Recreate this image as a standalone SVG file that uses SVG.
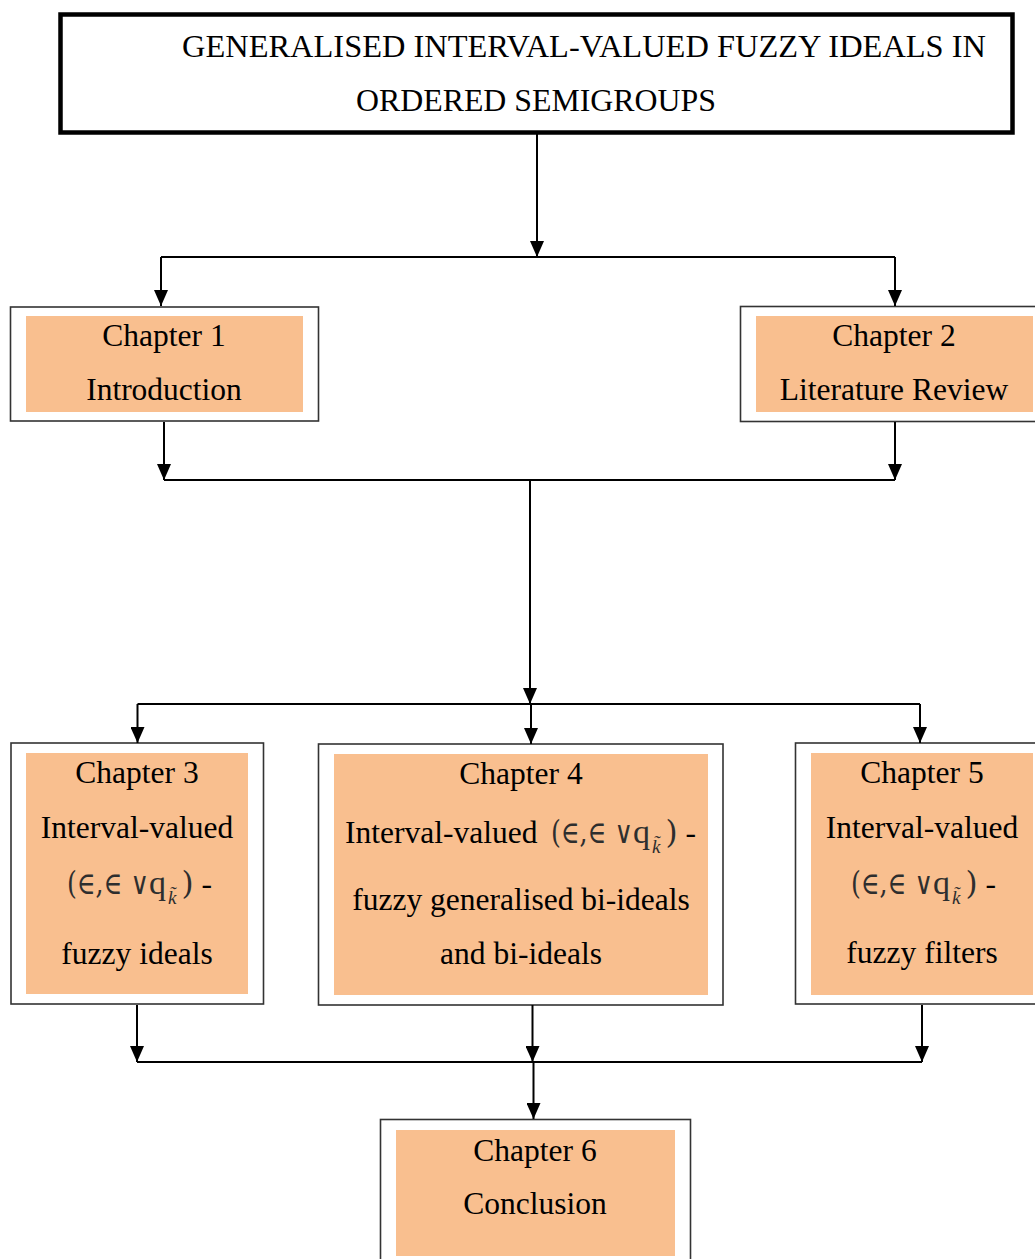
<svg xmlns="http://www.w3.org/2000/svg" width="1035" height="1259" viewBox="0 0 1035 1259">
<style>
  .lbl { font-family: "Liberation Serif", "Times New Roman", serif; font-size: 31.5px; fill: #000; text-anchor: middle; }
  .ttl { font-family: "Liberation Serif", "Times New Roman", serif; font-size: 31.5px; fill: #000; }
  .math { font-family: "DejaVu Serif", "Liberation Serif", serif; font-size: 31px; fill: #2e2e2e; }
  .q { font-family: "Liberation Serif", serif; font-size: 34px; }
  .sub { font-family: "Liberation Serif", serif; font-size: 19px; font-style: italic; }
  .dash { font-family: "Liberation Serif", serif; font-size: 31.5px; fill: #000; }
  .outer { fill: #fff; stroke: #333; stroke-width: 1.6; }
  .inner { fill: #F9BF8F; }
  .conn { stroke: #000; stroke-width: 2; fill: none; }
  .arr { stroke: #000; stroke-width: 2; fill: none; marker-end: url(#ah); }
</style>
<defs>
  <marker id="ah" markerUnits="userSpaceOnUse" markerWidth="16" markerHeight="14" viewBox="0 0 16 14" refX="16" refY="7" orient="auto">
    <path d="M0 0 L16 7 L0 14 Z" fill="#000"/>
  </marker>
</defs>
<rect width="1035" height="1259" fill="#fff"/>

<g id="title">
  <rect x="60.5" y="14.5" width="952" height="118" fill="#fff" stroke="#000" stroke-width="4.5"/>
  <text class="ttl" x="182" y="57" textLength="804" lengthAdjust="spacingAndGlyphs">GENERALISED INTERVAL-VALUED FUZZY IDEALS IN</text>
  <text class="ttl" x="356" y="111" textLength="360" lengthAdjust="spacingAndGlyphs">ORDERED SEMIGROUPS</text>
</g>

<g id="ch1">
  <rect class="outer" x="10.5" y="307" width="308" height="114"/>
  <rect class="inner" x="26" y="316" width="277" height="96"/>
  <text class="lbl" x="164" y="346">Chapter 1</text>
  <text class="lbl" x="164" y="400">Introduction</text>
</g>

<g id="ch2">
  <rect class="outer" x="740.5" y="306.5" width="320" height="115"/>
  <rect class="inner" x="756" y="316" width="277" height="96"/>
  <text class="lbl" x="894" y="346">Chapter 2</text>
  <text class="lbl" x="894" y="400">Literature Review</text>
</g>

<g id="ch3">
  <rect class="outer" x="11" y="743" width="252.5" height="261"/>
  <rect class="inner" x="26" y="753" width="222" height="241"/>
  <text class="lbl" x="137" y="783">Chapter 3</text>
  <text class="lbl" x="137" y="838">Interval-valued</text>
  <text class="math" x="67" y="894"><tspan textLength="82" lengthAdjust="spacingAndGlyphs">(∈,∈ ∨</tspan><tspan class="q">q</tspan><tspan class="sub" dx="2" dy="10">k̃</tspan><tspan dx="5" dy="-10">)</tspan><tspan class="dash" dx="8">-</tspan></text>
  <text class="lbl" x="137" y="964">fuzzy ideals</text>
</g>

<g id="ch4">
  <rect class="outer" x="318.5" y="744" width="404.5" height="261"/>
  <rect class="inner" x="334" y="754" width="374" height="241"/>
  <text class="lbl" x="521" y="784">Chapter 4</text>
  <text class="ttl" x="345" y="843">Interval-valued</text>
  <text class="math" x="551" y="843"><tspan textLength="82" lengthAdjust="spacingAndGlyphs">(∈,∈ ∨</tspan><tspan class="q">q</tspan><tspan class="sub" dx="2" dy="10">k̃</tspan><tspan dx="5" dy="-10">)</tspan><tspan class="dash" dx="8">-</tspan></text>
  <text class="lbl" x="521" y="910">fuzzy generalised bi-ideals</text>
  <text class="lbl" x="521" y="964">and bi-ideals</text>
</g>

<g id="ch5">
  <rect class="outer" x="795.5" y="743" width="260" height="261"/>
  <rect class="inner" x="811" y="753" width="222" height="242"/>
  <text class="lbl" x="922" y="783">Chapter 5</text>
  <text class="lbl" x="922" y="838">Interval-valued</text>
  <text class="math" x="851" y="894"><tspan textLength="82" lengthAdjust="spacingAndGlyphs">(∈,∈ ∨</tspan><tspan class="q">q</tspan><tspan class="sub" dx="2" dy="10">k̃</tspan><tspan dx="5" dy="-10">)</tspan><tspan class="dash" dx="8">-</tspan></text>
  <text class="lbl" x="922" y="963">fuzzy filters</text>
</g>

<g id="ch6">
  <rect class="outer" x="380.5" y="1119.5" width="310" height="160"/>
  <rect class="inner" x="396" y="1130" width="279" height="126"/>
  <text class="lbl" x="535" y="1161">Chapter 6</text>
  <text class="lbl" x="535" y="1214">Conclusion</text>
</g>

<g id="connectors">
  <path class="arr" d="M537 134 V257"/>
  <path class="conn" d="M161 257 H895"/>
  <path class="arr" d="M161 257 V306"/>
  <path class="arr" d="M895 257 V306"/>

  <path class="arr" d="M164 422 V480"/>
  <path class="arr" d="M895 422 V480"/>
  <path class="conn" d="M164 480 H895"/>
  <path class="arr" d="M530 480 V704"/>
  <path class="conn" d="M137.5 704 H920"/>
  <path class="arr" d="M137.5 704 V743"/>
  <path class="arr" d="M531 704 V744"/>
  <path class="arr" d="M920 704 V743"/>

  <path class="arr" d="M137 1005 V1062"/>
  <path class="arr" d="M532.5 1005 V1062"/>
  <path class="arr" d="M922 1005 V1062"/>
  <path class="conn" d="M137 1062 H922"/>
  <path class="arr" d="M533.5 1062 V1119"/>
</g>
</svg>
